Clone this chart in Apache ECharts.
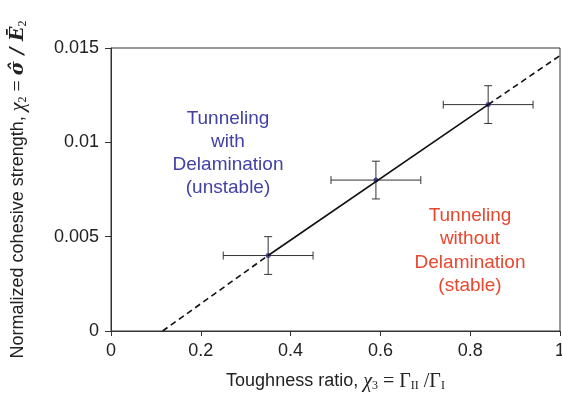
<!DOCTYPE html>
<html>
<head>
<meta charset="utf-8">
<script src="https://cdn.jsdelivr.net/npm/echarts@6/dist/echarts.min.js"></script>
<style>
  html, body { margin: 0; padding: 0; background: #fff; }
  #chart { width: 562px; height: 397px; }
</style>
</head>
<body>
<div id="chart"></div>
<script>
// measured points with error bars
const toughness = [0.35, 0.59, 0.84];
const strength = [0.004, 0.008, 0.012];
const xErr = [0.1, 0.1, 0.1];
const yErr = [0.001, 0.001, 0.001];

// fit line: solid between data, dashed extrapolation
const fitSolid = [[0.35, 0.004], [0.84, 0.012]];
const fitDashLow = [[0.115, 0], [0.35, 0.004]];
const fitDashHigh = [[0.84, 0.012], [1.0, 0.0146]];

const xTicks = [0, 0.2, 0.4, 0.6, 0.8, 1];
const yTicks = [0, 0.005, 0.01, 0.015];

const chart = echarts.init(document.getElementById("chart"));

const points = toughness.map((x, i) => [x, strength[i], xErr[i], yErr[i]]);

const sans = "Liberation Sans, Arial, sans-serif";
const serif = "Liberation Serif, Times New Roman, serif";

const nameRich = {
    t: { fontFamily: sans, fontSize: 18, color: "#222" },
    i: { fontFamily: serif, fontStyle: "italic", fontSize: 20, color: "#222" },
    g: { fontFamily: serif, fontSize: 20, color: "#222" },
    b: { fontFamily: "DejaVu Serif, serif", fontStyle: "italic", fontWeight: "bold", fontSize: 19, color: "#222" },
    sub: { fontFamily: serif, fontSize: 12, color: "#222", verticalAlign: "bottom", padding: [9, 0, 0, 0] },
};

const option = {
    backgroundColor: "#fff",
    animation: false,
    grid: {
        left: 111, right: 2, top: 48, bottom: 66,
        outerBoundsMode: "none",
        show: true, borderColor: "#333", borderWidth: 1,
    },
    xAxis: {
        type: "value",
        min: 0,
        max: 1,
        interval: 0.2,
        name: "{t|Toughness ratio, }{i|χ}{sub|3}{g| = Γ}{sub|II}{g| /Γ}{sub|I}",
        nameLocation: "middle",
        nameGap: 40,
        nameTextStyle: { rich: nameRich },
        axisLine: { lineStyle: { color: "#333", width: 1 } },
        axisTick: { show: true, length: 5, inside: false, lineStyle: { color: "#333" } },
        splitLine: { show: false },
        axisLabel: {
            fontFamily: sans, fontSize: 18, color: "#222", margin: 11,
            formatter: (v) => (xTicks.includes(+v.toFixed(2)) ? String(+v.toFixed(2)) : ""),
        },
    },
    yAxis: {
        type: "value",
        min: 0,
        max: 0.015,
        interval: 0.005,
        name: "{t|Normalized cohesive strength, }{i|χ}{sub|2}{g| = }{b|σ̂ / Ē}{sub|2}",
        nameLocation: "middle",
        nameGap: 82,
        nameTextStyle: { rich: nameRich },
        axisLine: { lineStyle: { color: "#333", width: 1 } },
        axisTick: { show: true, length: 6, inside: false, lineStyle: { color: "#333" } },
        splitLine: { show: false },
        axisLabel: {
            fontFamily: sans, fontSize: 18, color: "#222", margin: 12,
            formatter: (v) => {
                const r = +v.toFixed(3);
                return yTicks.includes(r) ? String(r) : "";
            },
        },
    },
    series: [
        {
            type: "line",
            data: fitSolid,
            symbol: "none",
            lineStyle: { color: "#111", width: 1.6 },
            silent: true,
        },
        {
            type: "line",
            data: fitDashLow,
            symbol: "none",
            lineStyle: { color: "#111", width: 1.6, type: [6, 4] },
            silent: true,
        },
        {
            type: "line",
            data: fitDashHigh,
            symbol: "none",
            lineStyle: { color: "#111", width: 1.6, type: [6, 4] },
            silent: true,
        },
        {
            type: "custom",
            data: points,
            renderItem: (params, api) => {
                const x = api.value(0), y = api.value(1), ex = api.value(2), ey = api.value(3);
                const l = api.coord([x - ex, y]);
                const r = api.coord([x + ex, y]);
                const t = api.coord([x, y + ey]);
                const b = api.coord([x, y - ey]);
                const cap = 4;
                const style = { stroke: "#333", lineWidth: 1 };
                return {
                    type: "group",
                    children: [
                        { type: "line", shape: { x1: l[0], y1: l[1], x2: r[0], y2: r[1] }, style },
                        { type: "line", shape: { x1: t[0], y1: t[1], x2: b[0], y2: b[1] }, style },
                        { type: "line", shape: { x1: l[0], y1: l[1] - cap, x2: l[0], y2: l[1] + cap }, style },
                        { type: "line", shape: { x1: r[0], y1: r[1] - cap, x2: r[0], y2: r[1] + cap }, style },
                        { type: "line", shape: { x1: t[0] - cap, y1: t[1], x2: t[0] + cap, y2: t[1] }, style },
                        { type: "line", shape: { x1: b[0] - cap, y1: b[1], x2: b[0] + cap, y2: b[1] }, style },
                    ],
                };
            },
            silent: true,
        },
        {
            type: "scatter",
            data: points.map((p) => [p[0], p[1]]),
            symbol: "circle",
            symbolSize: 5,
            itemStyle: { color: "#2b2b85" },
            silent: true,
        },
    ],
    graphic: [
        {
            type: "text",
            x: 228, y: 107,
            style: {
                text: "Tunneling\nwith\nDelamination\n(unstable)",
                fill: "#4242a6",
                font: "19px " + sans,
                align: "center",
                verticalAlign: "top",
                lineHeight: 23,
            },
        },
        {
            type: "text",
            x: 470, y: 204,
            style: {
                text: "Tunneling\nwithout\nDelamination\n(stable)",
                fill: "#e8472f",
                font: "19px " + sans,
                align: "center",
                verticalAlign: "top",
                lineHeight: 23.5,
            },
        },
    ],
};

chart.setOption(option);
</script>
</body>
</html>
